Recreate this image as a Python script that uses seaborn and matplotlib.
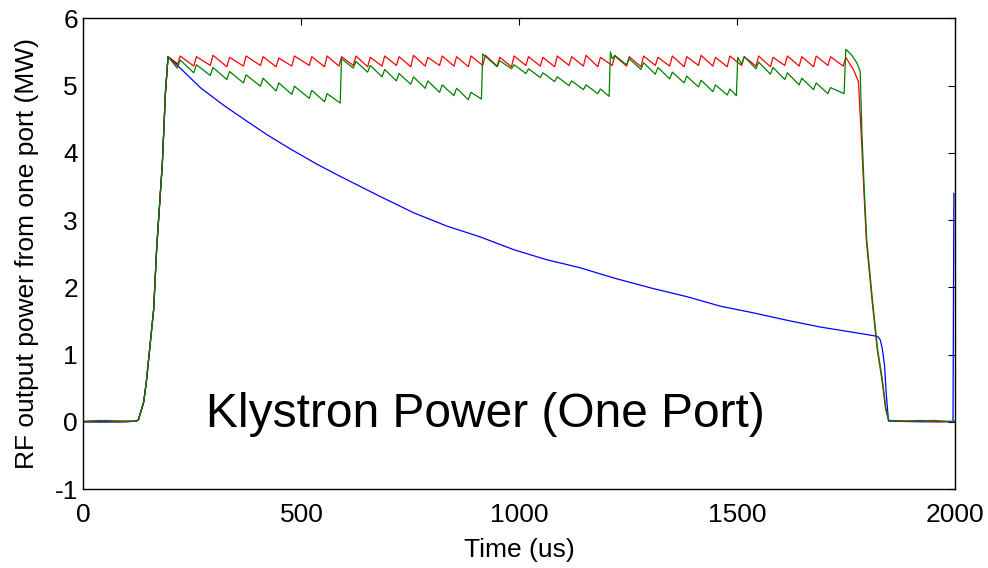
import matplotlib
matplotlib.use("Agg")
import matplotlib.pyplot as plt
import pandas as pd
import seaborn as sns

# ---------------- data (time in us, power in MW) ----------------
rise_pts = [(121, 0.01), (126, 0.03), (138, 0.29), (144, 0.58), (149, 0.90),
            (161, 1.67), (168, 2.59), (181, 3.85), (188, 4.89), (194, 5.43)]

black_pts = [(0, 0.0), (60, 0.0)] + rise_pts + [(214, 5.33)]

red_pts = ([(0, 0.01), (40, 0.02), (80, 0.0)] + rise_pts +
           [(215, 5.30), (222, 5.44),
            (253, 5.29), (259, 5.43), (291, 5.30), (297, 5.45), (329, 5.28), (335, 5.42),
            (367, 5.29), (373, 5.44), (406, 5.30), (412, 5.43), (442, 5.28), (448, 5.41),
            (478, 5.29), (484, 5.44), (518, 5.30), (524, 5.43), (553, 5.28), (559, 5.44),
            (586, 5.29), (592, 5.43), (619, 5.30), (625, 5.44), (652, 5.28), (658, 5.42),
            (685, 5.29), (691, 5.44), (718, 5.30), (724, 5.43), (751, 5.28), (757, 5.45),
            (784, 5.29), (790, 5.42), (817, 5.30), (823, 5.44), (850, 5.29), (856, 5.43),
            (883, 5.28), (889, 5.44), (916, 5.30), (922, 5.45), (949, 5.29), (955, 5.42),
            (982, 5.28), (988, 5.44), (1015, 5.30), (1021, 5.43), (1048, 5.29), (1054, 5.42),
            (1081, 5.28), (1087, 5.44), (1114, 5.30), (1120, 5.43), (1147, 5.29), (1153, 5.45),
            (1180, 5.28), (1186, 5.42), (1213, 5.30), (1219, 5.44), (1246, 5.29), (1252, 5.43),
            (1279, 5.28), (1285, 5.44), (1312, 5.30), (1318, 5.42), (1345, 5.29), (1351, 5.44),
            (1378, 5.28), (1384, 5.43), (1411, 5.30), (1417, 5.45), (1444, 5.29), (1450, 5.42),
            (1477, 5.28), (1483, 5.44), (1510, 5.30), (1516, 5.43), (1543, 5.29), (1549, 5.44),
            (1576, 5.28), (1582, 5.42), (1609, 5.30), (1615, 5.44), (1642, 5.29), (1648, 5.43),
            (1675, 5.28), (1681, 5.44), (1708, 5.30), (1714, 5.43), (1743, 5.29), (1749, 5.42),
            (1767, 5.23), (1778, 5.06), (1785, 4.19), (1790, 3.50), (1796, 2.71), (1809, 1.82),
            (1821, 1.08), (1832, 0.62), (1840, 0.20), (1847, 0.02), (1880, 0.01), (1920, 0.02),
            (1960, 0.0), (2000, 0.01)])

green_pts = ([(0, 0.0), (50, 0.02), (100, 0.01)] + rise_pts +
             [(215, 5.26), (222, 5.38),
              (253, 5.19), (259, 5.31), (291, 5.15), (297, 5.27), (329, 5.09), (335, 5.21),
              (367, 5.04), (373, 5.16), (406, 4.99), (412, 5.11), (442, 4.92), (448, 5.04),
              (478, 4.87), (484, 4.99), (518, 4.81), (524, 4.93), (553, 4.76), (559, 4.88),
              (589, 4.74), (592, 5.40),
              (619, 5.26), (625, 5.36), (652, 5.20), (658, 5.30), (685, 5.13), (691, 5.24),
              (718, 5.07), (724, 5.18), (751, 5.02), (757, 5.13), (784, 4.96), (790, 5.07),
              (817, 4.90), (823, 5.01), (850, 4.85), (856, 4.96), (883, 4.79), (889, 4.90),
              (913, 4.80), (916, 5.47),
              (949, 5.28), (955, 5.37), (982, 5.25), (988, 5.31), (1015, 5.18), (1021, 5.25),
              (1048, 5.12), (1054, 5.19), (1081, 5.06), (1087, 5.13), (1114, 5.00), (1120, 5.07),
              (1147, 4.94), (1153, 5.01), (1180, 4.88), (1186, 4.95), (1206, 4.84), (1209, 5.50),
              (1213, 5.40), (1219, 5.45), (1246, 5.31), (1252, 5.40), (1279, 5.24), (1285, 5.34),
              (1312, 5.17), (1318, 5.27), (1345, 5.10), (1351, 5.20), (1378, 5.04), (1384, 5.14),
              (1411, 4.98), (1417, 5.08), (1444, 4.91), (1450, 5.01), (1477, 4.86), (1483, 4.95),
              (1498, 4.85), (1501, 5.42),
              (1510, 5.32), (1516, 5.43), (1543, 5.25), (1549, 5.35), (1576, 5.17), (1582, 5.27),
              (1609, 5.09), (1615, 5.19), (1642, 5.01), (1648, 5.11), (1675, 4.94), (1681, 5.04),
              (1708, 4.88), (1714, 4.97), (1745, 4.88), (1749, 5.54),
              (1763, 5.45), (1775, 5.33), (1782, 5.21), (1786, 4.30), (1791, 3.50), (1797, 2.71),
              (1810, 1.82), (1822, 1.08), (1833, 0.62), (1841, 0.20), (1848, 0.02), (1900, 0.01),
              (1950, 0.02), (2000, 0.0)])

blue_pts = ([(0, 0.0), (60, 0.0), (100, 0.0)] + rise_pts +
            [(214, 5.31), (268, 4.97), (321, 4.71), (375, 4.47), (421, 4.27), (474, 4.06),
             (536, 3.83), (589, 3.65), (681, 3.35), (757, 3.11), (834, 2.91), (910, 2.75),
             (987, 2.56), (1063, 2.41), (1140, 2.29), (1216, 2.14), (1308, 1.98), (1385, 1.86),
             (1461, 1.72), (1537, 1.62), (1614, 1.51), (1690, 1.41), (1767, 1.33), (1813, 1.28),
             (1822, 1.27), (1828, 1.22), (1833, 1.08), (1838, 0.83), (1842, 0.40), (1847, 0.01),
             (1920, 0.0), (1995, 0.0), (1997, 3.40)])

x_ticks = [0, 500, 1000, 1500, 2000]
y_ticks = [-1, 0, 1, 2, 3, 4, 5, 6]
x_label = "Time (us)"
y_label = "RF output power from one port (MW)"
annotation = "Klystron Power (One Port)"

# ---------------- plotting ----------------
sns.set_style("white")
plt.rcParams["font.family"] = ["Liberation Sans", "DejaVu Sans"]
plt.rcParams["axes.unicode_minus"] = False
plt.rcParams["text.color"] = "black"
plt.rcParams["axes.labelcolor"] = "black"

fig = plt.figure(figsize=(9.88, 5.68), dpi=100)
ax = fig.add_axes([0.0845, 0.139, 0.8823, 0.8287])

series = [(black_pts, "#000000"), (blue_pts, "#0000ff"),
          (red_pts, "#ff0000"), (green_pts, "#008000")]
for pts, color in series:
    df = pd.DataFrame(pts, columns=["t", "p"])
    sns.lineplot(data=df, x="t", y="p", color=color, linewidth=0.9,
                 sort=False, estimator=None, ax=ax)

ax.set_xlim(0, 2000)
ax.set_ylim(-1, 6)
ax.set_xticks(x_ticks)
ax.set_yticks(y_ticks)
ax.tick_params(direction="in", top=True, right=True, length=5, width=0.8,
               labelsize=19, colors="black")
ax.tick_params(axis="x", pad=10)
ax.tick_params(axis="y", pad=4)
for s in ax.spines.values():
    s.set_color("black")
    s.set_linewidth(1.0)
ax.set_xlabel(x_label, fontsize=19, labelpad=8, color="black")
ax.set_ylabel(y_label, fontsize=19, labelpad=11, color="black")
ax.text(0.461, 0.131, annotation, transform=ax.transAxes, ha="center",
        va="baseline", fontsize=34.5, color="black")

fig.savefig("out.png", dpi=100)
